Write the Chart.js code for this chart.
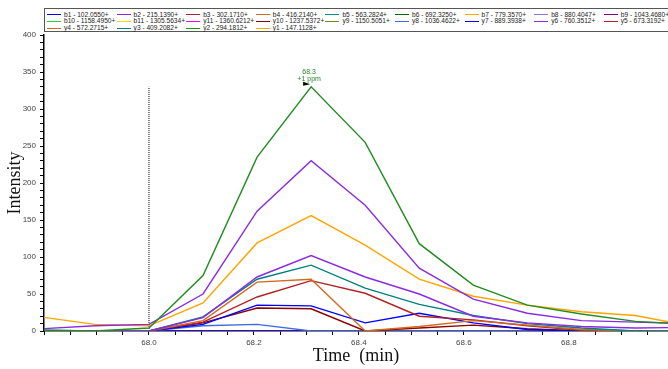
<!DOCTYPE html>
<html>
<head>
<meta charset="utf-8">
<script src="https://cdn.jsdelivr.net/npm/chart.js@4.4.1/dist/chart.umd.min.js"></script>
<style>
  body{margin:0;background:#fff}
  #wrap{position:relative;width:668px;height:369px;overflow:hidden}
  #legend{position:absolute;left:44px;top:8px;width:640px;height:22px;border:1.5px solid #555;background:#fff;
    font-family:"Liberation Sans",Arial,sans-serif;font-size:6.6px;color:#222}
  .item{position:absolute;height:7px;line-height:7px;white-space:nowrap}
  .sw{display:inline-block;width:14px;height:0;border-top:1.5px solid;vertical-align:middle;margin-right:3px}
</style>
</head>
<body>
<div id="wrap">
  <canvas id="data_chart" width="668" height="369"></canvas>
  <div id="legend"></div>
</div>
<script>
// retention times of the scans (min)
const rt=[67.794,67.897,68.0,68.103,68.206,68.309,68.412,68.515,68.618,68.721,68.824,68.927,69.03]

const ions=["b1 - 102.0550+","b2 - 215.1390+","b3 - 302.1710+","b4 - 416.2140+","b5 - 563.2824+","b6 - 692.3250+","b7 - 779.3570+","b8 - 880.4047+","b9 - 1043.4680+",
  "b10 - 1158.4950+","b11 - 1305.5634+","y11 - 1360.6212+","y10 - 1237.5372+","y9 - 1150.5051+","y8 - 1036.4622+","y7 - 889.3938+","y6 - 760.3512+","y5 - 673.3192+",
  "y4 - 572.2715+","y3 - 409.2082+","y2 - 294.1812+","y1 - 147.1128+"]

const colors=["#0000ff","#8a2be2","#a52a2a","#d2691e","#008b8b","#006400","#ffa500","#9370db","#800080",
  "#32cd32","#ffd700","#ff00ff","#8b0000","#6b8e23","#4169e1","#0000ff","#8a2be2","#b22222",
  "#d2691e","#008080","#228b22","#ffa500"]

const b1=[0,0,0,0,0,0,0,0,0,0,0,0,0]
const b2=[0,0,0,18,73,102,73,50,20,11,6,4,5]
const b3=[0,0,0,0,0,0,0,0,0,0,0,0,0]
const b4=[0,0,0,0,0,0,0,0,0,0,0,0,0]
const b5=[0,0,0,0,0,0,0,0,0,0,0,0,0]
const b6=[0,0,0,0,0,0,0,0,0,0,0,0,0]
const b7=[0,0,0,0,0,0,0,0,0,0,0,0,0]
const b8=[0,0,0,0,0,0,0,0,0,0,0,0,0]
const b9=[0,0,0,0,0,0,0,0,0,0,0,0,0]
const b10=[0,0,0,0,0,0,0,0,0,0,0,0,0]
const b11=[0,0,0,0,0,0,0,0,0,0,0,0,0]
const y11=[0,0,0,0,0,0,0,0,0,0,0,0,0]
const y10=[0,0,0,11,31,30,0,4,8,3,0,0,0]
const y9=[0,0,0,0,0,0,0,0,0,0,0,0,0]
const y8=[0,0,0,7,9,0,0,0,0,0,0,0,0]
const y7=[0,0,0,9,35,34,11,24,11,2,0,0,0]
const y6=[3,7,9,50,162,230,170,85,43,24,14,12,10]
const y5=[0,0,0,12,46,68,51,20,15,7,1,0,0]
const y4=[0,0,0,14,66,70,0,6,14,8,2,0,0]
const y3=[1,0,0,19,70,89,58,36,21,10,4,0,0]
const y2=[1,0,4,75,235,330,255,118,62,35,23,13,9]
const y1=[19,9,7,38,119,156,116,70,47,35,26,21,7]

const series=[b1,b2,b3,b4,b5,b6,b7,b8,b9,b10,b11,y11,y10,y9,y8,y7,y6,y5,y4,y3,y2,y1]

// peak annotation and integration start
const peakRt=68.309
const peakHeight=330
const peakNote="+1 ppm"
const boundaryRt=68.0

// legend, 9 columns
const legend=document.getElementById("legend")
for(let i=0;i<ions.length;i++){
  const col=i%9, row=Math.floor(i/9)
  const d=document.createElement("div")
  d.className="item"
  d.style.left=(2+col*69.6)+"px"
  d.style.top=(1.5+row*6.8)+"px"
  d.innerHTML="<span class='sw' style='border-color:"+colors[i]+"'></span>"+ions[i]
  legend.appendChild(d)
}

const datasets=[]
// draw the small ones first so the big traces sit on top
for(let i=0;i<series.length;i++){
  datasets.push({
    label:ions[i],
    data:rt.map((t,k)=>({x:t,y:series[i][k]})),
    borderColor:colors[i],
    borderWidth:1.4,
    pointRadius:0,
    tension:0,
    order:-Math.max(...series[i])
  })
}
datasets.push({
  label:"boundary",
  data:[{x:boundaryRt,y:0},{x:boundaryRt,y:peakHeight}],
  borderColor:"#000",
  borderWidth:1,
  borderDash:[1,1],
  pointRadius:0
})

const peakLabel={
  id:"peakLabel",
  afterDatasetsDraw(chart){
    const ctx=chart.ctx
    const px=chart.scales.x.getPixelForValue(peakRt)
    const py=chart.scales.y.getPixelForValue(peakHeight)
    ctx.save()
    ctx.fillStyle="#000"
    ctx.beginPath()
    ctx.moveTo(px-8,py-5)
    ctx.lineTo(px-1,py-2.5)
    ctx.lineTo(px-8,py-1)
    ctx.closePath()
    ctx.fill()
    ctx.fillStyle="#228b22"
    ctx.font="7px 'Liberation Sans', Arial, sans-serif"
    ctx.textAlign="center"
    ctx.textBaseline="middle"
    ctx.fillText(peakRt.toFixed(1),px-2,py-15)
    ctx.fillText(peakNote,px-2,py-8)
    ctx.restore()
  }
}

const tickFont={family:"'Liberation Sans', Arial, sans-serif",size:8}

const data_chart=new Chart("data_chart",{
  type:"line",
  data:{datasets:datasets},
  options:{
    responsive:false,
    animation:false,
    layout:{padding:{top:35,right:0,left:0,bottom:0}},
    plugins:{legend:{display:false},tooltip:{enabled:false}},
    scales:{
      x:{
        type:"linear",
        min:67.8,
        max:68.989,
        title:{display:true,text:"Time  (min)",font:{family:"'Liberation Serif','Times New Roman',serif",size:18},color:"#111",padding:{top:0,bottom:2}},
        ticks:{stepSize:0.05,autoSkip:false,maxRotation:0,includeBounds:false,font:tickFont,color:"#444",padding:3,
          callback:v=>(Math.round(v*100)%20===0&&v>67.9)?v.toFixed(1):""},
        grid:{drawOnChartArea:false,drawTicks:true,tickLength:4,color:"#000"},
        border:{color:"#000",width:1.5},
        afterFit:s=>{s.height=38}
      },
      y:{
        min:0,
        max:400,
        title:{display:true,text:"Intensity",font:{family:"'Liberation Serif','Times New Roman',serif",size:18},color:"#111",padding:{top:4,bottom:0}},
        ticks:{stepSize:10,autoSkip:false,font:tickFont,color:"#444",padding:4,
          callback:v=>v%50===0?v:""},
        grid:{drawOnChartArea:false,drawTicks:true,tickLength:4,color:"#000"},
        border:{color:"#000",width:1.5},
        afterFit:s=>{s.width=44}
      }
    }
  },
  plugins:[peakLabel]
})
</script>
</body>
</html>
